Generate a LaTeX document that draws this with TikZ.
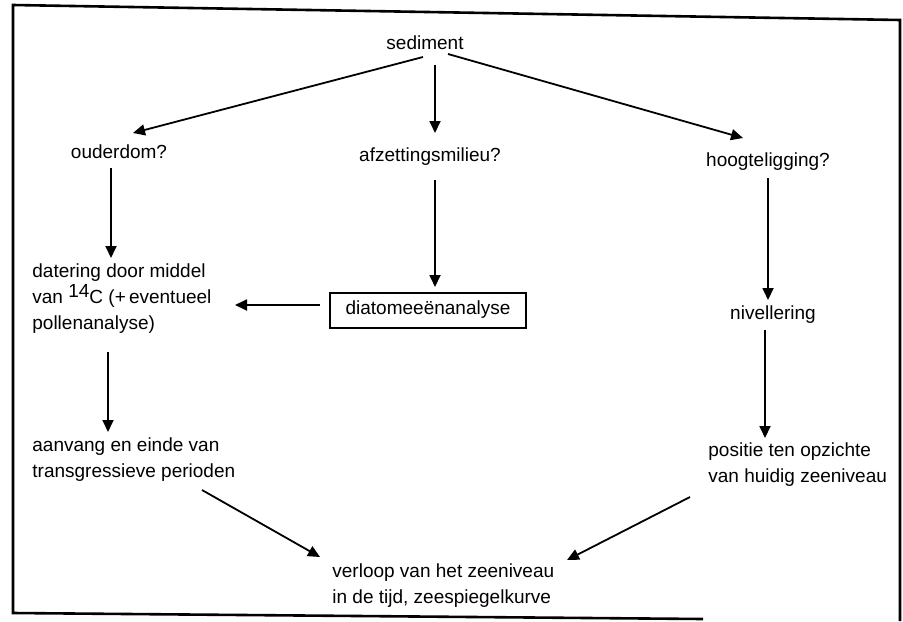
\documentclass[tikz,border=0pt]{standalone}
\usepackage{fontspec}
\setmainfont{Liberation Sans}
\usepackage{tikz}
\usetikzlibrary{arrows.meta}

\tikzset{
    lbl/.style={inner sep=0pt, align=left, font=\fontsize{9.5}{13}\selectfont},
    kader/.style={draw, line width=1pt, inner xsep=8pt, minimum height=17.5pt, font=\fontsize{9.5}{13}\selectfont},
    pijl/.style={line width=0.9pt, -{Triangle[length=6pt,width=5.5pt]}}
}

\begin{document}
\begin{tikzpicture}[x=0.5pt,y=-0.5pt]
    \useasboundingbox (0,0) rectangle (903,621);
    \draw[line width=1.3pt] (900,621) -- (900,20) -- (13,5) -- (13,613) -- (703,619);
    % bovenste rij
    \node[lbl] (sed) at (425,43) {sediment};
    \node[lbl] (oud) at (119,152) {ouderdom?};
    \node[lbl] (afz) at (430,157) {afzettingsmilieu?};
    \node[lbl] (hoo) at (768,162) {hoogteligging?};
    % methoden
    \node[lbl, anchor=west] (dat) at (32,299) {datering door middel\\van \raisebox{0.6ex}{14}C (+\,eventueel\\pollenanalyse)};
    \node[kader] (dia) at (428,310) {diatomeeënanalyse};
    \node[lbl] (niv) at (773,315) {nivellering};
    % resultaten
    \node[lbl, anchor=west] (aan) at (32,460) {aanvang en einde van\\transgressieve perioden};
    \node[lbl, anchor=west] (pos) at (708,465) {positie ten opzichte\\van huidig zeeniveau};
    \node[lbl, anchor=west] (ver) at (332,586) {verloop van het zeeniveau\\in de tijd, zeespiegelkurve};
    % pijlen
    \draw[pijl] ([shift={(-2,14)}]sed.center) -- ([shift={(14,-19)}]oud.center);
    \draw[pijl] ([shift={(10,22)}]sed.center) -- ([shift={(5,-24)}]afz.center);
    \draw[pijl] ([shift={(23,11)}]sed.center) -- ([shift={(-25,-24)}]hoo.center);
    \draw[pijl] ([shift={(-8,16)}]oud.center) -- ([shift={(79,-41)}]dat.west);
    \draw[pijl] ([shift={(5,23)}]afz.center) -- ([shift={(7,-23)}]dia.center);
    \draw[pijl] ([shift={(-108,-5)}]dia.center) -- ([shift={(203,6)}]dat.west);
    \draw[pijl] ([shift={(0,16)}]hoo.center) -- ([shift={(-5,-15)}]niv.center);
    \draw[pijl] ([shift={(76,53)}]dat.west) -- ([shift={(76,-28)}]aan.west);
    \draw[pijl] ([shift={(-8,15)}]niv.center) -- ([shift={(57,-27)}]pos.west);
    \draw[pijl] ([shift={(170,30)}]aan.west) -- ([shift={(-12,-29)}]ver.west);
    \draw[pijl] ([shift={(-18,32)}]pos.west) -- ([shift={(235,-26)}]ver.west);
\end{tikzpicture}
\end{document}
